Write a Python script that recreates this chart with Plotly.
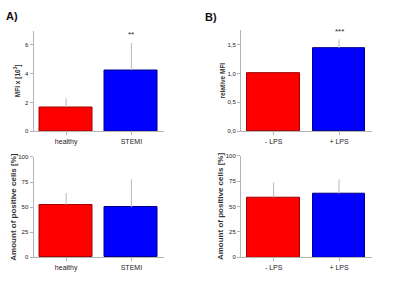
import plotly.graph_objects as go

# Data
cats_a = ["healthy", "STEMI"]
cats_b = ["- LPS", "+ LPS"]
mfi_a = [1.68, 4.24]
mfi_a_err = [0.61, 1.88]
rel_mfi_b = [1.0, 1.44]
rel_mfi_b_err = [0.0, 0.15]
pos_a = [52.4, 50.0]
pos_a_err = [11.6, 27.7]
pos_b = [58.8, 62.7]
pos_b_err = [14.9, 14.0]
bar_colors = ["#ff0000", "#0000ff"]
line_colors = ["#a00000", "#00008a"]

W, H = 400, 285
def px_x(a, b):
    return [a / W, b / W]
def px_y(top, bottom):
    return [(H - bottom) / H, (H - top) / H]

fig = go.Figure()
panels = [
    ("x", "y", cats_a, mfi_a, mfi_a_err),
    ("x2", "y2", cats_b, rel_mfi_b, rel_mfi_b_err),
    ("x3", "y3", cats_a, pos_a, pos_a_err),
    ("x4", "y4", cats_b, pos_b, pos_b_err),
]
for xa, ya, cats, vals, errs in panels:
    fig.add_trace(go.Bar(
        x=[0, 1], y=vals, xaxis=xa, yaxis=ya, width=0.81,
        marker=dict(color=bar_colors, line=dict(color=line_colors, width=1)),
        error_y=dict(type="data", symmetric=False, array=errs,
                     arrayminus=[0, 0], color="#b8b8b8", thickness=1, width=0),
        showlegend=False, hoverinfo="skip",
    ))

FONT = "Liberation Sans"
axis_common = dict(showline=True, linecolor="#b4b4b4", linewidth=1,
                   showgrid=False, zeroline=False, ticks="outside",
                   tickcolor="#b4b4b4", ticklen=3,
                   tickfont=dict(size=7, color="#222", family=FONT))

def xaxis(dom, cats, anchor):
    return dict(axis_common, domain=dom, range=[-0.5, 1.5], tickvals=[0, 1],
                ticktext=cats, anchor=anchor, fixedrange=True)

def yaxis(dom, rng, dtick, fmt, title, tsize, standoff, anchor):
    return dict(axis_common, domain=dom, range=rng, dtick=dtick, tickformat=fmt,
                anchor=anchor, fixedrange=True,
                title=dict(text=f"<b>{title}</b>", standoff=standoff,
                           font=dict(size=tsize, color="#333", family=FONT)),
                tickfont=dict(size=6, color="#222", family=FONT))

xa_l = px_x(33.5, 164)
xa_r = px_x(241, 371.7)
fig.update_layout(
    width=W, height=H, margin=dict(l=0, r=0, t=0, b=0),
    paper_bgcolor="white", plot_bgcolor="white", separators=",.",
    font=dict(family=FONT, color="#222"),
    xaxis=xaxis(xa_l, cats_a, "y"),
    yaxis=yaxis(px_y(28.1, 131), [0, 7], 2, "d", "MFI x [10<sup>3</sup>]", 6.5, 3, "x"),
    xaxis2=xaxis(xa_r, cats_b, "y2"),
    yaxis2=yaxis(px_y(27.75, 131), [0, 1.75], 0.5, ".1f", "relative MFI", 6.5, 1, "x2"),
    xaxis3=xaxis(xa_l, cats_a, "y3"),
    yaxis3=yaxis(px_y(157.3, 259.7), [0, 100], 25, "d", "Amount of positive cells [%]", 8, 0, "x3"),
    xaxis4=xaxis(xa_r, cats_b, "y4"),
    yaxis4=yaxis(px_y(156, 259.7), [0, 100], 25, "d", "Amount of positive cells [%]", 8, 0, "x4"),
    bargap=0,
)
fig.add_annotation(x=1, y=6.75, xref="x", yref="y", text="**", showarrow=False,
                   font=dict(size=8, color="#222"))
fig.add_annotation(x=1, y=1.72, xref="x2", yref="y2", text="***", showarrow=False,
                   font=dict(size=8, color="#222"))
fig.add_annotation(x=4 / W, y=1 - 13 / H, xref="paper", yref="paper", text="<b>A)</b>",
                   showarrow=False, xanchor="left", yanchor="middle",
                   font=dict(size=11, color="#111"))
fig.add_annotation(x=203 / W, y=1 - 14 / H, xref="paper", yref="paper", text="<b>B)</b>",
                   showarrow=False, xanchor="left", yanchor="middle",
                   font=dict(size=11, color="#111"))
fig.write_html("out.html", config={"displayModeBar": False},
               post_script="document.body.style.margin='0';")
